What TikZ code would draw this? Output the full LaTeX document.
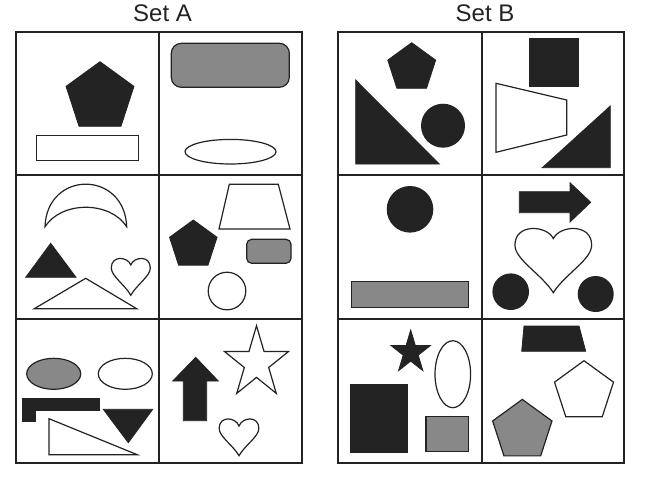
\documentclass[tikz,border=0pt]{standalone}
\usepackage{fontspec}
\setmainfont{Liberation Sans}
\definecolor{blk}{HTML}{232323}
\definecolor{gry}{HTML}{888888}
\newcommand\pentshape[4]{\draw[#1] ({#2+#4*cos(90)},{#3-#4*sin(90)}) -- ({#2+#4*cos(162)},{#3-#4*sin(162)}) -- ({#2+#4*cos(234)},{#3-#4*sin(234)}) -- ({#2+#4*cos(306)},{#3-#4*sin(306)}) -- ({#2+#4*cos(18)},{#3-#4*sin(18)}) -- cycle;}
\newcommand\starshp[5]{\draw[#1] ({#2},{#3-#5}) foreach \a/\f in {126/0.382,162/1,198/0.382,234/1,270/0.382,306/1,342/0.382,18/1,54/0.382} { -- ({#2+\f*#4*cos(\a)},{#3-\f*#5*sin(\a)}) } -- cycle;}
\newcommand\heartshp[6]{\begin{scope}[shift={(#2,#3)},xscale=#4,yscale=#5]
\draw[#1] (0,#6) .. controls (-0.08,-0.02) and (-0.5,-0.06) .. (-0.5,0.28) .. controls (-0.5,0.5) and (-0.15,0.72) .. (0,1) .. controls (0.15,0.72) and (0.5,0.5) .. (0.5,0.28) .. controls (0.5,-0.06) and (0.08,-0.02) .. (0,#6) -- cycle;
\end{scope}}
\begin{document}
\begin{tikzpicture}[x=1pt,y=-1pt,
  gridline/.style={line width=2pt, draw=blk, line cap=rect},
  darkshape/.style={fill=blk, draw=blk, line width=0.8pt, line join=miter},
  hollow/.style={fill=white, draw=blk, line width=1.2pt, line join=miter},
  grey/.style={fill=gry, draw=blk, line width=1.2pt},
  label/.style={font=\fontsize{24}{28}\selectfont, text=blk, anchor=base}]
\fill[white] (0,0) rectangle (652,483);
\useasboundingbox (0,0) rectangle (652,483);

% titles
\node[label] (setA) at (162.5,21.7) {Set A};
\node[label] (setB) at (485,21.7) {Set B};

% ---------- Set A ----------
% A1
\pentshape{darkshape}{100}{97.4}{35.7}
\draw[hollow] (36.7,135.7) rectangle (138.3,160.3);
% A2
\draw[grey, rounded corners=10pt] (171.3,43.3) rectangle (289.3,87.3);
\draw[hollow] (230.5,151.7) ellipse [x radius=45.5, y radius=12.3];
% A3
\draw[hollow] (45,226.7) .. controls (47,170) and (124.5,170) .. (126.7,226.7)
  .. controls (110,200.8) and (61.6,200.8) .. (45,226.7) -- cycle;
\draw[darkshape] (25.7,277.3) -- (50.7,243.3) -- (76,277.3) -- cycle;
\draw[hollow] (34.3,308.7) -- (85.7,278.3) -- (136.7,308.7) -- cycle;
\heartshp{hollow}{130.8}{257.3}{39}{38}{0.2}
% A4
\draw[hollow] (229.3,184.3) -- (278.3,184.3) -- (290,229) -- (219,229) -- cycle;
\pentshape{darkshape}{193.3}{245}{25}
\draw[grey, rounded corners=5pt] (246.7,239.3) rectangle (291,263.3);
\draw[hollow] (227,291) circle [radius=18.8];
% A5
\draw[grey] (53.7,373.8) ellipse [x radius=27, y radius=15.5];
\draw[hollow] (125.3,373.8) ellipse [x radius=27, y radius=15.5];
\draw[darkshape] (22.3,398) -- (99.3,398) -- (99.3,410.7) -- (35.7,410.7) -- (35.7,421) -- (22.3,421) -- cycle;
\draw[darkshape] (103.3,409.3) -- (152.7,409.3) -- (128.3,442.7) -- cycle;
\draw[hollow] (49,418.7) -- (49,454.7) -- (137.3,454.7) -- cycle;
% A6
\draw[darkshape] (183.3,420.7) -- (183.3,381) -- (172.7,381) -- (195.7,357.3) -- (218.3,381) -- (206.7,381) -- (206.7,420.7) -- cycle;
\starshp{hollow}{256.5}{363.1}{33.6}{37.4}
\heartshp{hollow}{239}{417.7}{39.7}{38}{0.22}

% ---------- Set B ----------
% B1
\pentshape{darkshape}{411.7}{67.9}{25.2}
\draw[darkshape] (355.7,80) -- (355.7,164) -- (439.3,164) -- cycle;
\fill[blk] (443,125.7) circle [radius=22];
% B2
\draw[darkshape] (529,38.3) rectangle (578.7,86);
\draw[hollow] (496,83.3) -- (566.7,100) -- (566.7,135) -- (496,152.3) -- cycle;
\draw[darkshape] (542.3,167.7) -- (610.3,106) -- (610.3,167.7) -- cycle;
% B3
\fill[blk] (410,209.3) circle [radius=23.3];
\draw[grey] (351.7,281.7) rectangle (468.3,307.7);
% B4
\draw[darkshape] (519.3,191.7) -- (570,191.7) -- (570,182.7) -- (590.7,202.3) -- (570,222) -- (570,212.7) -- (519.3,212.7) -- cycle;
\heartshp{hollow}{553.3}{226.7}{76.7}{66}{0.18}
\fill[blk] (510.7,291.7) circle [radius=18.3];
\fill[blk] (595.7,294) circle [radius=18];
% B5
\starshp{darkshape}{410.7}{352.5}{20.7}{22.5}
\draw[hollow] (452.8,374.2) ellipse [x radius=17.8, y radius=33.5];
\draw[darkshape] (350,384) rectangle (407.7,452.7);
\draw[grey] (426,416.7) rectangle (468.3,451.3);
% B6
\draw[darkshape] (524,326) -- (579,326) -- (585.7,351.3) -- (521.7,351.3) -- cycle;
\pentshape{hollow}{584}{391.7}{31}
\pentshape{grey}{522.3}{430.6}{31.2}

% ---------- grids ----------
\draw[gridline] (16,32) rectangle (302,463);
\draw[gridline] (159,32) -- (159,463);
\draw[gridline] (16,175) -- (302,175) (16,319) -- (302,319);
\draw[gridline] (338,32) rectangle (624,463);
\draw[gridline] (482,32) -- (482,463);
\draw[gridline] (338,175) -- (624,175) (338,319) -- (624,319);
\end{tikzpicture}
\end{document}
